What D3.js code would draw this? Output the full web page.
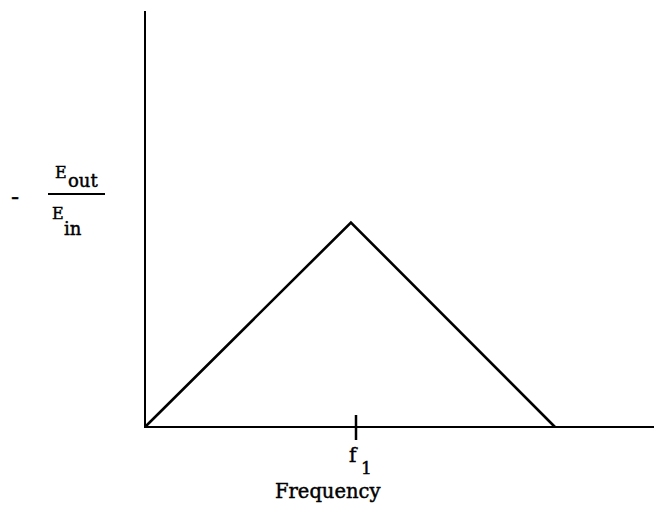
<!DOCTYPE html>
<html>
<head>
<meta charset="utf-8">
<script src="https://cdn.jsdelivr.net/npm/d3@7"></script>
<style>
  body { margin: 0; background: #fff; }
  text { font-family: "DejaVu Serif", serif; fill: #000; stroke: #000; stroke-width: 0.45; }
</style>
</head>
<body>
<div id="chart"></div>
<script>
let width = 654,
    height = 507,
    margin = ({ top: 11, right: 0, bottom: 80, left: 145 });

// frequency in units of f1, response Eout/Ein (relative)
let freq = [0, 0.976, 1.943];
let response = [0, 0.983, 0];
let tickFreq = [1];
let tickLabel = ["f"];
let tickSub = ["1"];

const svg = d3.select("#chart")
  .append("svg")
  .attr("width", width)
  .attr("height", height)
  .attr("viewBox", [0, 0, width, height]);

let x = d3.scaleLinear()
  .domain([0, 2.4])
  .range([margin.left, margin.left + 2.4 * 211]);

let y = d3.scaleLinear()
  .domain([0, 2])
  .range([height - margin.bottom, margin.top]);

let data = freq.map((f, i) => ({ f: f, r: response[i] }));

// axes
svg.append("line")
  .attr("x1", x(0)).attr("x2", x(0))
  .attr("y1", y(0) + 1).attr("y2", y(2))
  .attr("stroke", "#000").attr("stroke-width", 2);

svg.append("line")
  .attr("x1", x(0)).attr("x2", width)
  .attr("y1", y(0)).attr("y2", y(0))
  .attr("stroke", "#000").attr("stroke-width", 2);

// tick at f1
tickFreq.forEach((t, i) => {
  svg.append("line")
    .attr("x1", x(t)).attr("x2", x(t))
    .attr("y1", y(0) - 12).attr("y2", y(0) + 13)
    .attr("stroke", "#000").attr("stroke-width", 2.5);

  svg.append("text")
    .attr("x", x(t) - 7)
    .attr("y", y(0) + 35)
    .attr("font-size", 20)
    .text(tickLabel[i]);
  svg.append("text")
    .attr("x", x(t) + 5)
    .attr("y", y(0) + 47)
    .attr("font-size", 17)
    .text(tickSub[i]);
});

// response curve
let line = d3.line()
  .x(d => x(d.f))
  .y(d => y(d.r));

svg.append("path")
  .datum(data)
  .attr("fill", "none")
  .attr("stroke", "#000")
  .attr("stroke-width", 2.6)
  .attr("stroke-linejoin", "miter")
  .attr("d", line);

// x label
svg.append("text")
  .attr("x", 275)
  .attr("y", 498)
  .attr("font-size", 19.5)
  .text("Frequency");

// y label: - Eout / Ein
svg.append("text")
  .attr("x", 11)
  .attr("y", 205)
  .attr("font-size", 24)
  .text("-");

svg.append("text")
  .attr("x", 55)
  .attr("y", 178)
  .attr("font-size", 16)
  .text("E");
svg.append("text")
  .attr("x", 68)
  .attr("y", 187)
  .attr("font-size", 18)
  .text("out");

svg.append("line")
  .attr("x1", 48).attr("x2", 105)
  .attr("y1", 194).attr("y2", 194)
  .attr("stroke", "#000").attr("stroke-width", 2);

svg.append("text")
  .attr("x", 52)
  .attr("y", 219)
  .attr("font-size", 16)
  .text("E");
svg.append("text")
  .attr("x", 64)
  .attr("y", 235)
  .attr("font-size", 18)
  .text("in");
</script>
</body>
</html>
